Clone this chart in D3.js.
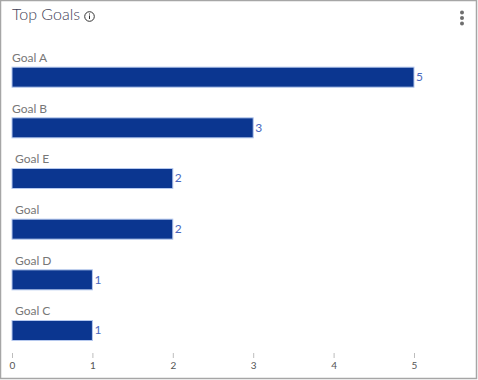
<!DOCTYPE html>
<html>
<head>
<meta charset="utf-8">
<script src="https://cdnjs.cloudflare.com/ajax/libs/d3/7.8.5/d3.min.js"></script>
<style>
  html, body { margin: 0; padding: 0; background: #fff; }
  svg { display: block; font-family: Lato, sans-serif; }
</style>
</head>
<body>
<svg id="chart" width="478" height="380"></svg>
<script>
const categories = ["Goal A", "Goal B", "Goal E", "Goal", "Goal D", "Goal C"];
const goalValues = [5, 3, 2, 2, 1, 1];
const tickValues = [0, 1, 2, 3, 4, 5];

const svg = d3.select("#chart");

// card border
svg.append("rect")
  .attr("x", 0.5).attr("y", 0.5)
  .attr("width", 476).attr("height", 378)
  .attr("fill", "#fff")
  .attr("stroke", "#a6a6a6")
  .attr("stroke-width", 1.5);

const xScale = d3.scaleLinear().domain([0, 5]).range([12, 414]);
const yScale = d3.scaleBand().domain(categories).range([36.5, 340.5]);
const barHeight = 20;

// title and info icon
svg.append("text")
  .attr("x", 12).attr("y", 20)
  .attr("font-size", 16)
  .attr("font-weight", 300)
  .attr("fill", "#3f4157")
  .text("Top Goals");

const info = svg.append("g").attr("transform", "translate(89.5,16.5)");
info.append("circle").attr("r", 4.8).attr("fill", "none").attr("stroke", "#333").attr("stroke-width", 1);
info.append("rect").attr("x", -0.5).attr("y", -1).attr("width", 1).attr("height", 3.5).attr("fill", "#333");
info.append("rect").attr("x", -0.5).attr("y", -3).attr("width", 1).attr("height", 1).attr("fill", "#333");

// menu dots
svg.append("g").selectAll("circle")
  .data([0, 1, 2])
  .join("circle")
  .attr("cx", 462)
  .attr("cy", d => 12.5 + d * 5.5)
  .attr("r", 2)
  .attr("fill", "#6e6e6e");

const rows = svg.append("g").selectAll("g")
  .data(categories)
  .join("g")
  .attr("transform", d => `translate(0,${yScale(d)})`);

rows.append("rect")
  .attr("x", xScale(0))
  .attr("y", yScale.bandwidth() - barHeight)
  .attr("width", (d, i) => xScale(goalValues[i]) - xScale(0))
  .attr("height", barHeight)
  .attr("fill", "#0b3690")
  .attr("stroke", "#b5c8ee")
  .attr("stroke-width", 1);

// first two labels sit flush with the bar, the rest are nudged in
rows.append("text")
  .attr("x", (d, i) => i < 2 ? 12 : 15)
  .attr("y", yScale.bandwidth() - barHeight - 5)
  .attr("font-size", 12)
  .attr("fill", "#777")
  .text(d => d);

rows.append("text")
  .attr("x", (d, i) => xScale(goalValues[i]) + 2)
  .attr("y", yScale.bandwidth() - barHeight / 2 + 4)
  .attr("font-size", 12)
  .attr("fill", "#4a68bd")
  .text((d, i) => goalValues[i]);

// x axis, ticks only
const xAxis = d3.axisBottom(xScale)
  .tickValues(tickValues)
  .tickFormat(d3.format("d"))
  .tickSize(5)
  .tickPadding(4);

const axisG = svg.append("g")
  .attr("transform", "translate(0,353)")
  .call(xAxis);

axisG.select(".domain").remove();
axisG.selectAll(".tick line").attr("stroke", "#bdbdbd");
axisG.selectAll(".tick text")
  .attr("fill", "#555")
  .style("font-size", "10px")
  .style("font-family", "Lato, sans-serif");
</script>
</body>
</html>
